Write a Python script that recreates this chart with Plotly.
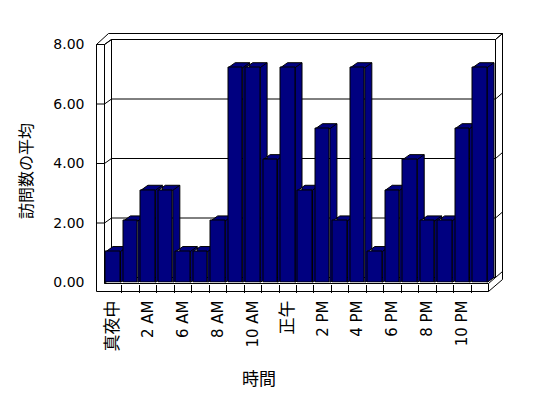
import plotly.graph_objects as go

# ---------------- data ----------------
categories = ["真夜中", "1 AM", "2 AM", "5 AM", "6 AM", "7 AM", "8 AM", "9 AM",
              "10 AM", "11 AM", "正午", "1 PM", "2 PM", "3 PM", "4 PM", "5 PM",
              "6 PM", "7 PM", "8 PM", "9 PM", "10 PM", "11 PM"]
values = [1.04, 2.07, 3.1, 3.1, 1.04, 1.04, 2.07, 7.22, 7.22, 4.13, 7.22, 3.1,
          5.17, 2.07, 7.22, 1.04, 3.1, 4.13, 2.07, 2.07, 5.17, 7.22]
y_ticks = [0, 2, 4, 6, 8]
x_title = "時間"
y_title = "訪問数の平均"

# ---------------- geometry ----------------
W, H = 548, 398
PAGE_OFF = 8      # the page body margin shifts the figure by this many pixels
n = len(categories)
X0 = 104.5        # front pixel of left category edge
PITCH = 17.455    # pixels per category
Y0 = 282.5        # front pixel of value 0
UNIT = 29.75      # pixels per value unit
DXP, DYP = 7, 5   # depth offset in pixels (right, up)
BAR_W = 0.83
NAVY = "#000080"
LATIN = "DejaVu Sans, Noto Sans CJK JP"
CJK = "Noto Sans CJK JP"


def fx(px):
    return (px - PAGE_OFF) / W


def fy(py):
    return 1 - (py - PAGE_OFF) / H


def front_py(v):
    return Y0 - v * UNIT


def back_py(v):
    return front_py(v) - DYP


dom_l, dom_r = X0, X0 + n * PITCH + DXP
dom_b, dom_t = Y0, front_py(max(y_ticks)) - DYP - 5
span_x = (dom_r - dom_l) / PITCH
span_y = (dom_b - dom_t) / UNIT
xf = [-0.5, -0.5 + span_x]
xb = [-0.5 - DXP / PITCH, -0.5 - DXP / PITCH + span_x]
yf = [0, span_y]
yb = [-DYP / UNIT, -DYP / UNIT + span_y]
dx, dy = DXP / PITCH, DYP / UNIT

idx = list(range(n))

# ---------------- traces ----------------
xs, ys = [], []
for i, v in zip(idx, values):
    x0, x1 = i - BAR_W / 2, i + BAR_W / 2
    xs += [x1, x0, x0 + dx, x1 + dx, x1, x1, x1 + dx, x1 + dx, None]
    ys += [v, v, v + dy, v + dy, v, 0, dy, v + dy, None]

fig = go.Figure()
fig.add_trace(go.Scatter(x=[], y=[], xaxis="x", yaxis="y", showlegend=False))
fig.add_trace(go.Scatter(x=xs, y=ys, mode="lines", fill="toself", fillcolor=NAVY,
                         line=dict(color="black", width=1), xaxis="x2", yaxis="y2",
                         hoverinfo="skip", showlegend=False))
fig.add_trace(go.Bar(x=idx, y=values, width=BAR_W, xaxis="x3", yaxis="y3",
                     marker=dict(color=NAVY, line=dict(color="black", width=1)),
                     showlegend=False))

# ---------------- frame shapes ----------------
shapes = []


def seg(x0, y0, x1, y1):
    shapes.append(dict(type="line", xref="paper", yref="paper", layer="below",
                       x0=fx(x0), y0=fy(y0), x1=fx(x1), y1=fy(y1),
                       line=dict(color="black", width=1)))


L_OUT, L_IN = 96.5, X0
B_L, B_R = X0 + DXP, X0 + n * PITCH + DXP
F_R = X0 + n * PITCH
R_OUT = B_R + 7
TOP_IN = back_py(max(y_ticks))
TOP_OUT = TOP_IN - 6
FL_T, FL_B = Y0 + 1, Y0 + 9

# left wall
seg(L_OUT, front_py(8), L_OUT, FL_B)
seg(L_IN, front_py(8), L_IN, FL_T)
seg(L_OUT, front_py(8), L_IN, front_py(8))
seg(L_OUT, front_py(8), B_L - 3, TOP_OUT)
seg(L_IN, front_py(8), B_L, TOP_IN)
# top of back wall
seg(B_L - 3, TOP_OUT, R_OUT, TOP_OUT)
seg(B_L, TOP_IN, B_R, TOP_IN)
seg(B_R, TOP_IN, R_OUT, TOP_OUT)
# back wall verticals
seg(B_L, TOP_IN, B_L, back_py(0))
seg(B_R, TOP_IN, B_R, back_py(0))
seg(R_OUT, TOP_OUT, R_OUT, back_py(0) + 2)
# floor
seg(L_IN, FL_T, F_R, FL_T)
seg(L_OUT, FL_B, F_R, FL_B)
seg(F_R, FL_T, F_R, FL_B)
seg(F_R, FL_T, B_R, back_py(0))
seg(F_R, FL_B, R_OUT, back_py(0) + 2)

# gridlines on back wall and their wrap-arounds
for v in y_ticks:
    shapes.append(dict(type="line", xref="paper", yref="y", layer="below",
                       x0=fx(B_L), x1=fx(B_R), y0=v, y1=v,
                       line=dict(color="black", width=1)))
    if v > 0:
        seg(L_OUT, front_py(v), L_IN, front_py(v))
    seg(L_IN, front_py(v) if v > 0 else FL_T, B_L, back_py(v))
    seg(B_R, back_py(v), R_OUT, back_py(v) - 6)

# ---------------- tick labels ----------------
tick_pos = idx[::2]
tick_txt = []
for c in categories[::2]:
    if c.isascii():
        tick_txt.append(c)
    else:
        tick_txt.append(
            f'<span style="font-family:{CJK};font-size:17px;fill:black">{c}</span>')

fig.update_layout(
    template="none",
    width=W, height=H, autosize=False,
    margin=dict(l=0, r=0, t=0, b=0, pad=0, autoexpand=False),
    paper_bgcolor="white", plot_bgcolor="rgba(0,0,0,0)",
    bargap=0, showlegend=False,
    shapes=shapes,
    xaxis=dict(domain=[fx(dom_l), fx(dom_r)], range=xb, visible=False, anchor="y",
               automargin=False),
    yaxis=dict(domain=[fy(dom_b), fy(dom_t)], range=yb, visible=False, anchor="x",
               automargin=False),
    xaxis2=dict(overlaying="x", range=xf, anchor="free", position=fy(FL_B), side="bottom",
                tickmode="array", tickvals=tick_pos, ticktext=tick_txt, tickangle=-90,
                showgrid=False, zeroline=False, showline=False, ticks="",
                ticklabelstandoff=5, automargin=False,
                tickfont=dict(family=LATIN, size=15, color="black")),
    yaxis2=dict(overlaying="y", range=yf, anchor="free", position=fx(L_OUT), side="left",
                tickmode="array", tickvals=y_ticks, tickformat=".2f",
                showgrid=False, zeroline=False, showline=False, ticks="",
                ticklabelstandoff=12, automargin=False,
                tickfont=dict(family=LATIN, size=14, color="black")),
    xaxis3=dict(overlaying="x", range=xf, anchor="free", position=fy(FL_T), side="bottom",
                tickmode="array", tickvals=[i + 0.5 for i in idx[:-1]],
                ticks="outside", ticklen=8, tickwidth=1, tickcolor="black",
                showticklabels=False, showgrid=False, zeroline=False, showline=False,
                automargin=False),
    yaxis3=dict(overlaying="y", range=yf, visible=False, automargin=False),
    annotations=[
        dict(text=x_title, xref="paper", yref="paper", x=fx(259), y=fy(377),
             xanchor="center", yanchor="middle",
             showarrow=False, font=dict(family=CJK, size=17, color="black")),
        dict(text=y_title, xref="paper", yref="paper", x=fx(25), y=fy(171),
             xanchor="center", yanchor="middle",
             textangle=-90, showarrow=False,
             font=dict(family=CJK, size=16, color="black")),
    ],
)

fig.write_html("out.html")
